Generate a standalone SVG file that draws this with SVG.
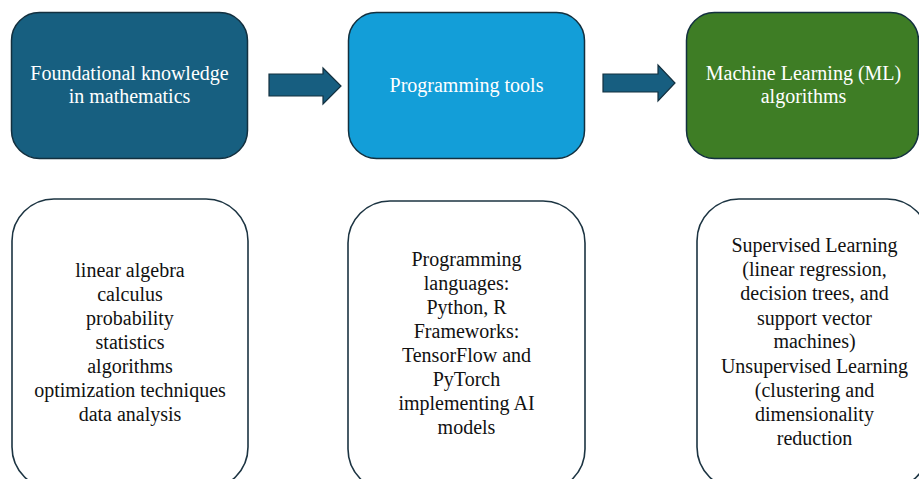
<svg xmlns="http://www.w3.org/2000/svg" width="919" height="479" viewBox="0 0 919 479">
  <style>
    .head { stroke: #13303f; stroke-width: 1.5; }
    .detail { fill: #ffffff; stroke: #1c3442; stroke-width: 1.6; }
    text { font-family: 'Liberation Serif', Tinos, 'Times New Roman', 'DejaVu Serif', serif; text-anchor: middle; }
    .title { font-size: 20px; fill: #ffffff; }
    .body { font-size: 20px; fill: #111111; }
    .arrow { fill: #175e80; stroke: #13303f; stroke-width: 1.2; }
  </style>
  <rect width="919" height="479" fill="#ffffff"/>

  <!-- top row: stage headings -->
  <g id="math">
    <rect class="head" x="11.5" y="12.5" width="236" height="146" rx="28" fill="#175f80"/>
    <text class="title" x="129.5" y="80">Foundational knowledge</text>
    <text class="title" x="129.5" y="103">in mathematics</text>
  </g>
  <g id="tools">
    <rect class="head" x="348.5" y="12.5" width="236" height="146" rx="28" fill="#139ed8"/>
    <text class="title" x="466.5" y="92">Programming tools</text>
  </g>
  <g id="ml">
    <rect class="head" x="686.5" y="12.5" width="232" height="146" rx="28" fill="#3e7d25"/>
    <text class="title" x="803.5" y="80">Machine Learning (ML)</text>
    <text class="title" x="803.5" y="103">algorithms</text>
  </g>

  <!-- flow arrows between headings -->
  <g id="connectors">
    <path class="arrow" d="M269,74 H323 V68 L341,86 L323,104 V96 H269 Z"/>
    <path class="arrow" d="M603,74 H658 V65 L675,83 L658,101 V92 H603 Z"/>
  </g>

  <!-- bottom row: details -->
  <g id="math-detail">
    <rect class="detail" x="12" y="199" width="236" height="290" rx="42"/>
    <text class="body" x="130" y="277">linear algebra</text>
    <text class="body" x="130" y="301">calculus</text>
    <text class="body" x="130" y="325">probability</text>
    <text class="body" x="130" y="349">statistics</text>
    <text class="body" x="130" y="373">algorithms</text>
    <text class="body" x="130" y="397">optimization techniques</text>
    <text class="body" x="130" y="421">data analysis</text>
  </g>
  <g id="tools-detail">
    <rect class="detail" x="348" y="201" width="237" height="290" rx="42"/>
    <text class="body" x="466.5" y="266">Programming</text>
    <text class="body" x="466.5" y="290">languages:</text>
    <text class="body" x="466.5" y="314">Python, R</text>
    <text class="body" x="466.5" y="338">Frameworks:</text>
    <text class="body" x="466.5" y="362">TensorFlow and</text>
    <text class="body" x="466.5" y="386">PyTorch</text>
    <text class="body" x="466.5" y="410">implementing AI</text>
    <text class="body" x="466.5" y="434">models</text>
  </g>
  <g id="ml-detail">
    <rect class="detail" x="697" y="199" width="232" height="290" rx="42"/>
    <text class="body" x="814.5" y="252">Supervised Learning</text>
    <text class="body" x="814.5" y="276">(linear regression,</text>
    <text class="body" x="814.5" y="300">decision trees, and</text>
    <text class="body" x="814.5" y="325">support vector</text>
    <text class="body" x="814.5" y="348">machines)</text>
    <text class="body" x="814.5" y="373">Unsupervised Learning</text>
    <text class="body" x="814.5" y="397">(clustering and</text>
    <text class="body" x="814.5" y="421">dimensionality</text>
    <text class="body" x="814.5" y="445">reduction</text>
  </g>
</svg>
